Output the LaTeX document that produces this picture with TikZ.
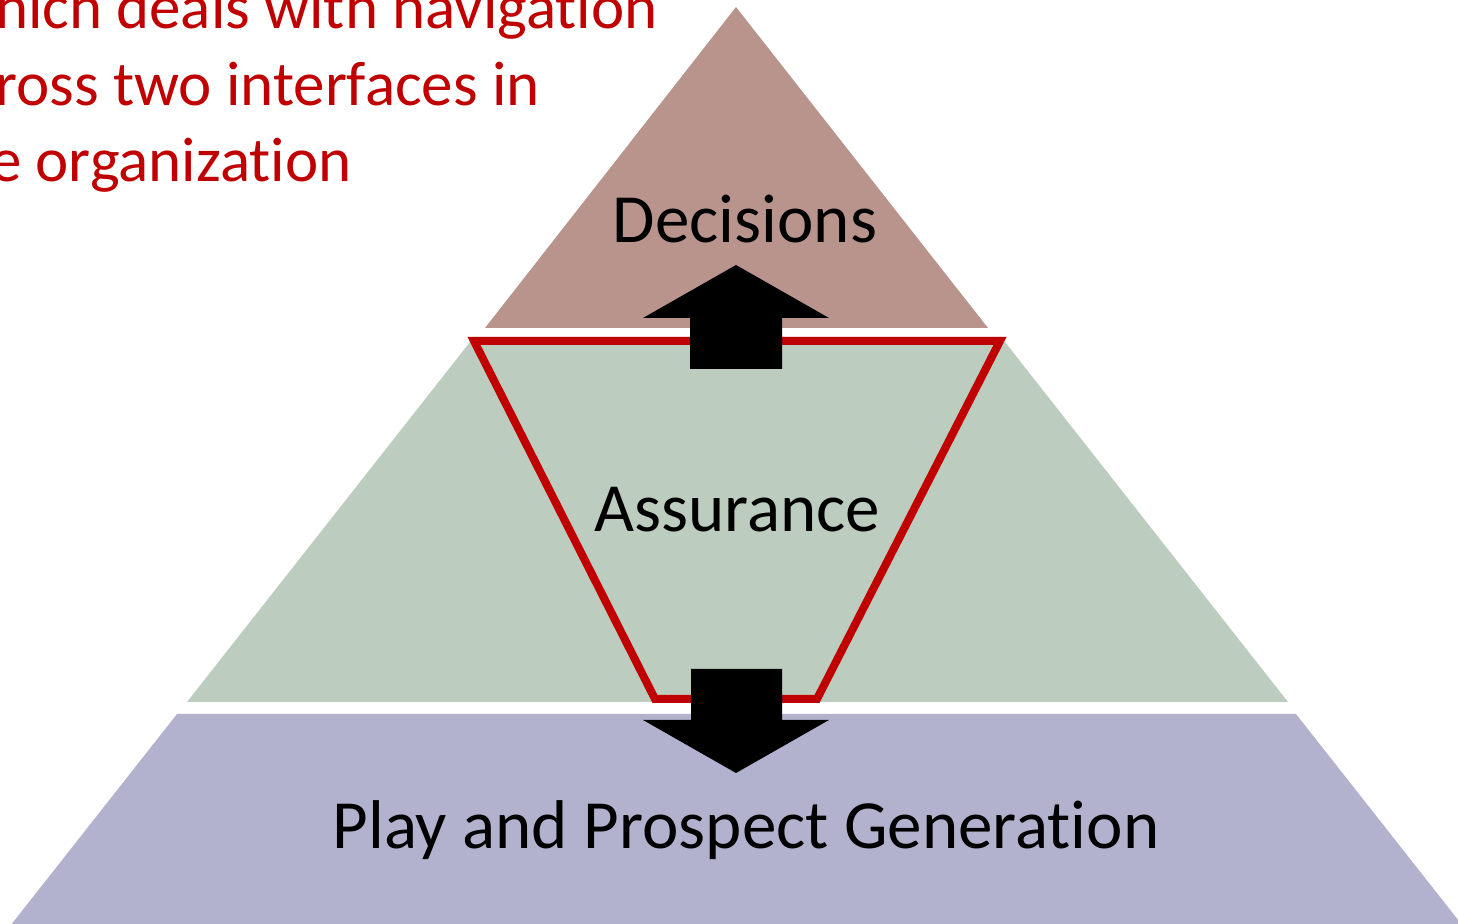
\documentclass[tikz,border=0pt]{standalone}
\usepackage{fontspec}
\setmainfont{Carlito}[Ligatures={NoCommon}]
\definecolor{topbrown}{RGB}{185,148,141}
\definecolor{midgreen}{RGB}{188,204,190}
\definecolor{basepurple}{RGB}{178,178,206}
\definecolor{darkred}{RGB}{192,0,0}
\begin{document}
\begin{tikzpicture}[x=0.5pt,y=-0.5pt,
  tier/.style={draw=none},
  label/.style={inner sep=0pt,font=\fontsize{34.5pt}{41pt}\selectfont,text=black},
  note/.style={inner sep=0pt,anchor=base east,font=\fontsize{31.5pt}{38pt}\selectfont,text=darkred},
  blockarrow/.style={fill=black,draw=none},
  frame/.style={draw=darkred,line width=4pt,line join=miter}]
\clip (0,0) rectangle (1458,924);

% three tiers of the pyramid
\fill[tier,topbrown] (736,7) -- (988,328) -- (485,328) -- cycle;
\fill[tier,midgreen] (474,337) -- (1001,337) -- (1288,702) -- (187,702) -- cycle;
\fill[tier,basepurple] (177,714) -- (1296,714) -- (1466,930) -- (7,930) -- cycle;

% red funnel in the middle tier
\draw[frame] (474,341) -- (1000,341) -- (817,699) -- (655,699) -- cycle;

% block arrows
\fill[blockarrow] (690,369) -- (690,318) -- (643,318) -- (736,265) -- (829,318) -- (782,318) -- (782,369) -- cycle;
\fill[blockarrow] (691,669) -- (782,669) -- (782,720) -- (829,720) -- (736,773) -- (643,720) -- (691,720) -- cycle;

% tier labels
\node[label,anchor=base] (dec) at (745,243) {Decisions};
\node[label,anchor=base] (ass) at (737,532) {Assurance};
\node[label,anchor=base] (play) at (746,849) {Play and Prospect Generation};

% note text
\node[note] (n1) at (658,29) {hich deals with navigation};
\node[note] (n2) at (540,106) {ross two interfaces in};
\node[note] (n3) at (352,182) {e organization};
\end{tikzpicture}
\end{document}
